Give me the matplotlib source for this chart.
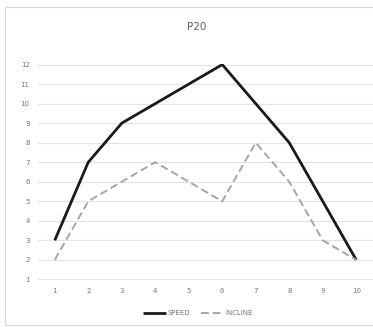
import matplotlib.pyplot as plt
from matplotlib.patches import Rectangle

steps = [1, 2, 3, 4, 5, 6, 7, 8, 9, 10]
speed = [3, 7, 9, 10, 11, 12, 10, 8, 5, 2]
incline = [2, 5, 6, 7, 6, 5, 8, 6, 3, 2]
yticks = list(range(1, 13))

fig = plt.figure(figsize=(3.73, 3.27), dpi=100)
fig.patches.append(Rectangle((5 / 373, 2 / 327), 1.2, 318 / 327,
                             transform=fig.transFigure, fill=False,
                             edgecolor="#d9d9d9", linewidth=0.8))

ax = fig.add_axes([38 / 373, 47 / 327, 335 / 373, 216 / 327])
ax.plot(steps, speed, color="#1a1a1a", linewidth=2.0, label="SPEED",
        solid_capstyle="butt")
ax.plot(steps, incline, color="#a6a6a6", linewidth=1.4, linestyle=(0, (4, 2)),
        label="INCLINE")

ax.set_xlim(0.5, 10.5)
ax.set_ylim(0.97, 12.03)
ax.set_xticks(steps)
ax.set_yticks(yticks)
ax.tick_params(length=0, labelsize=5, labelcolor="#777777", pad=6)
ax.grid(axis="y", color="#e3e3e3", linewidth=0.8)
ax.set_axisbelow(True)
for s in ax.spines.values():
    s.set_visible(False)

fig.text(197 / 373, 1 - 27 / 327, "P20", ha="center", va="center",
         fontsize=7.5, color="#606060")
fig.legend(loc="center", bbox_to_anchor=(198 / 373, 1 - 313 / 327), ncol=2,
           frameon=False, fontsize=5, labelcolor="#777777",
           handlelength=3.2, handletextpad=0.3, columnspacing=1.5)

fig.savefig("out.png", dpi=100)
